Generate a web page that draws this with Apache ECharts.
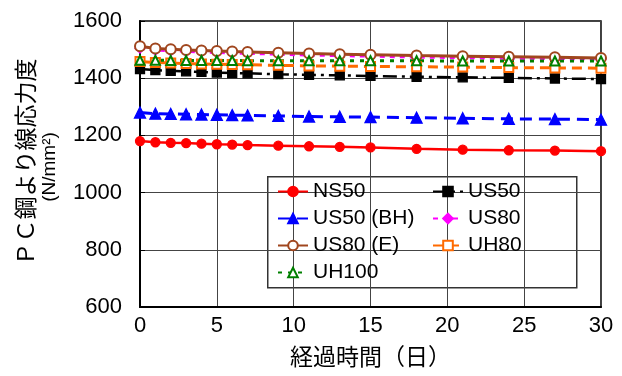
<!DOCTYPE html>
<html><head><meta charset="utf-8">
<script src="https://cdn.jsdelivr.net/npm/echarts@6/dist/echarts.min.js"></script>
<style>html,body{margin:0;padding:0;background:#fff}#c{width:622px;height:376px}</style>
</head><body><div id="c"></div>
<script>
const days = [0,1,2,3,4,5,6,7,9,11,13,15,18,21,24,27,30];
const xTicks = [0,5,10,15,20,25,30];
const yTicks = [600,800,1000,1200,1400,1600];
const NS50   = [1180,1176,1174,1173,1171,1169,1168,1166,1164,1162,1160,1158,1153,1150,1148,1147,1145];
const US50   = [1432,1428,1426,1424,1422,1420,1418,1417,1414,1412,1410,1408,1405,1403,1401,1399,1397];
const US50BH = [1280,1276,1275,1274,1273,1272,1271,1270,1268,1266,1265,1264,1262,1260,1258,1257,1255];
const US80   = [1505,1498,1496,1494,1492,1490,1488,1487,1484,1481,1479,1477,1474,1472,1470,1469,1467];
const US80E  = [1512,1504,1501,1499,1497,1495,1493,1492,1489,1486,1484,1482,1479,1477,1475,1473,1471];
const UH80   = [1458,1455,1453,1451,1450,1449,1448,1447,1445,1443,1442,1441,1440,1439,1437,1436,1435];
const UH100  = [1463,1463,1462,1462,1462,1462,1462,1461,1461,1461,1461,1461,1461,1460,1460,1460,1460];

const FONT = "'Liberation Sans',Arial,sans-serif";
const CJK = "'Noto Sans CJK JP',sans-serif";
const zip = a => days.map((d,i)=>[d,a[i]]);
function S(name,data,color,symbol,size,lineType,width){
  return {name,type:'line',data:zip(data),symbol,symbolSize:size,showAllSymbol:true,
    lineStyle:{color,width,type:lineType},itemStyle:{color,borderColor:color,borderWidth:1.3},
    emphasis:{disabled:true},animation:false};
}
const series = [
  S('NS50',NS50,'#ff0000','circle',9,'solid',2.5),
  S('US50',US50,'#000000','rect',9,[14,5,3,5],2.5),
  S('US50 (BH)',US50BH,'#0000ff','triangle',11,[12,7],3),
  S('US80',US80,'#ff00ff','diamond',10,[5,5],3),
  S('US80 (E)',US80E,'#a0461e','emptyCircle',10,'solid',3),
  S('UH80',UH80,'#ff6a00','emptyRect',9,[10,6],3),
  S('UH100',UH100,'#008000','emptyTriangle',9,[4,6],3)
];
const legendCommon = {orient:'vertical',itemWidth:30,itemHeight:12,itemGap:6,padding:0,
  textStyle:{fontSize:21,color:'#000',fontFamily:FONT},selectedMode:false};
const chart = echarts.init(document.getElementById('c'),null,{renderer:'canvas'});
chart.setOption({
  animation:false,
  grid:{left:140,right:21,top:21,bottom:69,show:true,borderColor:'#000',borderWidth:1.5},
  xAxis:{type:'value',min:0,max:30,interval:5,
    axisLine:{show:true,onZero:false,lineStyle:{color:'#000',width:2}},
    axisTick:{show:false},
    splitLine:{show:true,lineStyle:{color:'#444',width:1}},
    axisLabel:{fontSize:22,color:'#000',fontFamily:FONT,margin:8,formatter:v=>String(v)},
    name:'経過時間（日）',nameLocation:'middle',nameGap:38,
    nameTextStyle:{fontSize:23,color:'#000',fontFamily:CJK}},
  yAxis:{type:'value',min:600,max:1600,interval:200,
    axisLine:{show:true,lineStyle:{color:'#000',width:2}},
    axisTick:{show:true,inside:true,length:5,lineStyle:{color:'#000'}},
    splitLine:{show:true,lineStyle:{color:'#444',width:1}},
    axisLabel:{fontSize:22,color:'#000',fontFamily:FONT,margin:18,formatter:v=>String(v)}},
  legend:[
    Object.assign({left:277,top:181,data:['NS50','US50 (BH)','US80 (E)','UH100']},legendCommon),
    Object.assign({left:432,top:181,data:['US50','US80','UH80']},legendCommon)
  ],
  graphic:[
    {type:'rect',left:267,top:176,z:0,shape:{width:309,height:111},
     style:{fill:'#fff',stroke:'#333',lineWidth:1.5}},
    {type:'text',x:25,y:162,rotation:Math.PI/2,
     style:{text:'ＰＣ鋼より線応力度',fontSize:23,fill:'#000',align:'center',verticalAlign:'middle',
       fontFamily:CJK}},
    {type:'text',x:50,y:167,rotation:Math.PI/2,
     style:{text:'(N/mm²)',fontSize:19,fill:'#000',align:'center',verticalAlign:'middle',
       fontFamily:FONT}}
  ],
  series
});
</script></body></html>
